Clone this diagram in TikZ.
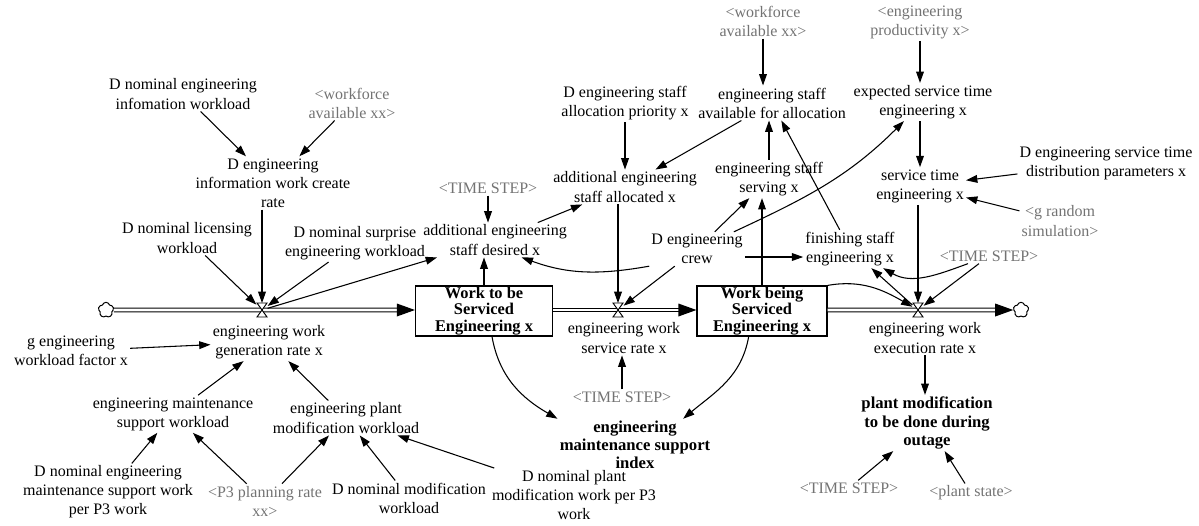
\documentclass[tikz,border=0pt]{standalone}
\usepackage{fontspec}
\setmainfont{Liberation Serif}
\usetikzlibrary{arrows.meta,shapes.symbols,calc}
\begin{document}
\begin{tikzpicture}[x=0.75pt,y=-0.75pt,
  var/.style={align=center,font=\fontsize{12}{14.3}\selectfont,inner sep=1.5pt},
  shadow/.style={var,text=black!55},
  bvar/.style={align=center,font=\fontsize{12.5}{13.6}\selectfont\bfseries,inner sep=1.5pt},
  stock/.style={draw,line width=0.9pt,minimum height=37.5pt,align=center,
    font=\fontsize{12.3}{12.2}\selectfont\bfseries,inner sep=0pt},
  arr/.style={line width=0.8pt,-{Triangle[length=8.5pt,width=5.8pt]}},
  pipe/.style={line width=0.7pt,double distance=2.2pt},
  valve/.style={inner sep=0pt,minimum width=8pt,minimum height=10pt},
  sink/.style={cloud,draw,fill=white,cloud puffs=5,cloud puff arc=150,aspect=1,
    minimum width=11.5pt,minimum height=11.5pt,inner sep=0pt,line width=0.75pt}
]
\useasboundingbox (0,0) rectangle (1199,525);

% stocks, sources/sinks and flow valves
\node[stock,minimum width=102.75pt] (s1) at (484,311) {Work to be\\Serviced\\Engineering x};
\node[stock,minimum width=97.5pt] (s2) at (762,311) {Work being\\Serviced\\Engineering x};
\node[sink] (cl) at (106,310) {};
\node[sink] (cr) at (1021,310) {};
\node[valve] (v1) at (262,310) {};
\node[valve] (v2) at (618,310) {};
\node[valve] (v3) at (918,310) {};

% auxiliary variables
\node[var] (n1) at (183,94) {D nominal engineering\\infomation workload};
\node[shadow] (n2) at (352,103) {<workforce\\available xx>};
\node[var] (n3) at (273,183) {D engineering\\information work create\\rate};
\node[var] (n4) at (187,238) {D nominal licensing\\workload};
\node[var] (n5) at (355,243) {D nominal surprise\\engineering workload};
\node[var] (n6) at (71,351) {g engineering\\workload factor x};
\node[var] (n7) at (269,342) {engineering work\\generation rate x};
\node[var] (n8) at (173,414) {engineering maintenance\\support workload};
\node[var] (n9) at (346,418) {engineering plant\\modification workload};
\node[var] (n10) at (108,492) {D nominal engineering\\maintenance support work\\per P3 work};
\node[shadow] (n11) at (265,501) {<P3 planning rate\\xx>};
\node[var] (n12) at (409,498) {D nominal modification\\workload};
\node[var] (n13) at (574,495) {D nominal plant\\modification work per P3\\work};
\node[shadow] (n14) at (488,188) {<TIME STEP>};
\node[var] (n15) at (495,240) {additional engineering\\staff desired x};
\node[var] (n16) at (625,103) {D engineering staff\\allocation priority x};
\node[var] (n17) at (625,187) {additional engineering\\staff allocated x};
\node[shadow] (n18) at (763,21) {<workforce\\available xx>};
\node[var] (n19) at (772,103) {engineering staff\\available for allocation};
\node[var] (n20) at (769,179) {engineering staff\\serving x};
\node[var] (n21) at (697,249) {D engineering\\crew};
\node[var] (n22) at (850,249) {finishing staff\\engineering x};
\node[shadow] (n23) at (920,22) {<engineering\\productivity x>};
\node[var] (n24) at (923,102) {expected service time\\engineering x};
\node[var] (n25) at (920,186) {service time\\engineering x};
\node[var] (n26) at (1106,163) {D engineering service time\\distribution parameters x};
\node[shadow] (n27) at (1060,221) {<g random\\simulation>};
\node[shadow] (n28) at (989,256) {<TIME STEP>};
\node[var] (n29) at (624,338) {engineering work\\service rate x};
\node[var] (n30) at (925,338) {engineering work\\execution rate x};
\node[shadow] (n31) at (622,397) {<TIME STEP>};
\node[bvar] (n32) at (635,445) {engineering\\maintenance support\\index};
\node[bvar] (n33) at (927,423) {plant modification\\to be done during\\outage};
\node[shadow] (n34) at (849,488) {<TIME STEP>};
\node[shadow] (n35) at (971,493) {<plant state>};

% material flow pipes
\draw[pipe] (cl.east) -- ($(s1.west |- v1)+(-16,0)$);
\fill ($(s1.west |- v1)+(-18,-6.5)$) -- (s1.west |- v1) -- ($(s1.west |- v1)+(-18,6.5)$) -- cycle;
\draw[pipe] (s1.east |- v2) -- ($(s2.west |- v2)+(-16,0)$);
\fill ($(s2.west |- v2)+(-18,-6.5)$) -- (s2.west |- v2) -- ($(s2.west |- v2)+(-18,6.5)$) -- cycle;
\draw[pipe] (s2.east |- v3) -- ($(cr.west)+(-16,0)$);
\fill ($(cr.west)+(-18,-6.5)$) -- (cr.west) -- ($(cr.west)+(-18,6.5)$) -- cycle;
\foreach \v in {v1,v2,v3}
  \draw[fill=white,line width=0.7pt] ($(\v)+(-5,-7)$) -- ($(\v)+(5,-7)$)
     -- ($(\v)+(-5,7)$) -- ($(\v)+(5,7)$) -- cycle;

% information links
\draw[arr] (n1) -- (n3);
\draw[arr] (n2) -- (n3);
\draw[arr] (v1 |- n3.south) -- (v1);
\draw[arr] (n4) -- (v1);
\draw[arr] (n5) -- (v1);
\draw[arr] (v1) -- (n15);
\draw[arr] (n6) -- (n7);
\draw[arr] (n8) -- (n7);
\draw[arr] (n9) -- (n7);
\draw[arr] (n10) -- (n8);
\draw[arr] (n11) -- (n8);
\draw[arr] (n11) -- (n9);
\draw[arr] (n12) -- (n9);
\draw[arr] (n13) -- (n9);
\draw[arr] (s1.north) -- (s1.north |- n15.south);
\draw[arr] (n14.south) -- (n14.south |- n15.north);
\draw[arr] (n15) -- (n17);
\draw[arr] (n16) -- (n17);
\draw[arr] (n19) -- (n17);
\draw[arr] (n18.south) -- (n18.south |- n19.north);
\draw[arr] (n20.north) -- (n20.north |- n19.south);
\draw[arr] (n22) -- (n19);
\draw[arr] (s2.north) -- (s2.north |- n20.south);
\draw[arr] (n21) -- (n20);
\draw[arr] (n21) to[out=25,in=-135] (n24);
\draw[arr] ([yshift=-6pt]n21.east) -- ([yshift=-6pt]n22.west);
\draw[arr] (n21.south west) to[out=190,in=-20] ([xshift=20pt]n15.south);
\draw[arr] (n21) -- (v2);
\draw[arr] (v2 |- n17.south) -- (v2);
\draw[arr] (n31.north) -- (n31.north |- n29.south);
\draw[arr] ([xshift=6pt]s1.south) to[out=-80,in=150] (n32.north west);
\draw[arr] ([xshift=-10pt]s2.south) to[out=-100,in=40] ([xshift=-22pt]n32.north east);
\draw[arr] (n23.south) -- (n23.south |- n24.north);
\draw[arr] (n25 |- n24.south) -- (n25.north);
\draw[arr] (n26) -- (n25);
\draw[arr] (n27) -- (n25);
\draw[arr] (v3 |- n25.south) -- (v3);
\draw[arr] (s2.north east) to[out=10,in=150] (v3);
\draw[arr] (v3) -- (n22);
\draw[arr] (n28) to[out=200,in=-30] (n22);
\draw[arr] (n28) -- (v3);
\draw[arr] (n30.south) -- (n30.south |- n33.north);
\draw[arr] (n34) -- (n33);
\draw[arr] (n35) -- (n33);
\end{tikzpicture}
\end{document}
